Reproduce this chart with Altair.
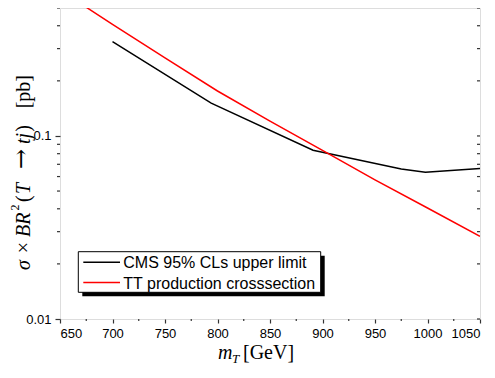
import altair as alt
import pandas as pd

# ---- data ----
black_mass = [700, 794, 891, 975, 998, 1050]
black_xsec = [0.328, 0.151, 0.0836, 0.0659, 0.0633, 0.0664]
red_mass = [650, 700, 750, 800, 850, 900, 950, 1000, 1050]
red_xsec = [0.626, 0.407, 0.267, 0.176, 0.1205, 0.0834, 0.0575, 0.0404, 0.0283]
series_names = ["CMS 95% CLs upper limit", "TT production crosssection"]
series_colors = ["#000000", "#ff0000"]
x_major = list(range(650, 1051, 50))
x_minor = list(range(675, 1050, 50))
y_major = [0.01, 0.1]
y_minor = [0.02, 0.03, 0.04, 0.05, 0.06, 0.07, 0.08, 0.09, 0.2, 0.3, 0.4, 0.5]

W, H = 420, 311
FONT = "Liberation Sans"
SERIF = "Liberation Serif"
TICK = "#333"

black_df = pd.DataFrame({"mass": black_mass, "xsec": black_xsec})
red_df = pd.DataFrame({"mass": red_mass, "xsec": red_xsec})
one = pd.DataFrame({"a": [0]})

xscale = alt.Scale(domain=[650, 1050], nice=False, zero=False)
yscale = alt.Scale(type="log", domain=[0.01, 0.5], nice=False)

x_axis = alt.Axis(
    values=x_major, format="d", tickSize=4, tickColor=TICK, tickWidth=1.2,
    domain=False, grid=False, labelFont=FONT, labelFontSize=13,
    labelColor="black", labelPadding=4, labelOverlap=False, title=None,
)
y_axis = alt.Axis(
    values=y_major, labelExpr="datum.value == 0.1 ? '0.1' : '0.01'",
    tickSize=5, tickColor=TICK, tickWidth=1.2, domain=False, grid=False,
    labelFont=FONT, labelFontSize=13, labelColor="black", labelPadding=4,
    labelOverlap=False, title=None,
)

black_line = alt.Chart(black_df).mark_line(
    color=series_colors[0], strokeWidth=1.5, clip=True
).encode(
    x=alt.X("mass:Q", scale=xscale, axis=x_axis),
    y=alt.Y("xsec:Q", scale=yscale, axis=y_axis),
)

red_line = alt.Chart(red_df).mark_line(
    color=series_colors[1], strokeWidth=1.5, clip=True
).encode(
    x=alt.X("mass:Q", scale=xscale),
    y=alt.Y("xsec:Q", scale=yscale),
)

# ---- minor ticks and mirrored right-hand ticks ----
xminor_df = pd.DataFrame({"mass": x_minor})
yminor_df = pd.DataFrame({"xsec": y_minor})
yall_df = pd.DataFrame({"xsec": y_major + y_minor})

bottom_minor = alt.Chart(xminor_df).mark_rule(color=TICK, strokeWidth=1.2).encode(
    x=alt.X("mass:Q", scale=xscale), y=alt.value(H), y2=alt.value(H + 2)
)
left_minor = alt.Chart(yminor_df).mark_rule(color=TICK, strokeWidth=1.2).encode(
    y=alt.Y("xsec:Q", scale=yscale), x=alt.value(-3), x2=alt.value(0)
)
right_ticks = alt.Chart(yall_df).mark_rule(color=TICK, strokeWidth=1.2).encode(
    y=alt.Y("xsec:Q", scale=yscale), x=alt.value(W - 3), x2=alt.value(W)
)

# ---- legend (drawn by hand to get the drop shadow) ----
lx0, lx1, ly0, ly1 = 18.3, 260.7, 243.7, 284.3
shadow = alt.Chart(one).mark_rect(color="black").encode(
    x=alt.value(lx0 + 4), x2=alt.value(lx1 + 4),
    y=alt.value(ly0 + 4), y2=alt.value(ly1 + 4),
)
box = alt.Chart(one).mark_rect(fill="white", stroke="black", strokeWidth=1).encode(
    x=alt.value(lx0), x2=alt.value(lx1), y=alt.value(ly0), y2=alt.value(ly1),
)
rows = [254.3, 274.5]
leg_layers = []
for name, col, ry in zip(series_names, series_colors, rows):
    leg_layers.append(
        alt.Chart(one).mark_rule(color=col, strokeWidth=1.5).encode(
            x=alt.value(23.3), x2=alt.value(60), y=alt.value(ry)
        )
    )
    leg_layers.append(
        alt.Chart(one).mark_text(
            text=name, font=FONT, fontSize=16, align="left", baseline="middle", color="black"
        ).encode(x=alt.value(63.3), y=alt.value(ry + 1))
    )

# ---- axis titles (mixed italic / roman) ----
def txt(s, x, y, size=21, italic=False, align="left", angle=0, baseline="alphabetic", font=SERIF):
    kw = dict(text=s, font=font, fontSize=size, align=align, baseline=baseline, color="black")
    if italic:
        kw["fontStyle"] = "italic"
    if angle:
        kw["angle"] = angle
    return alt.Chart(one).mark_text(**kw).encode(x=alt.value(x), y=alt.value(y))

title_layers = [
    txt("m", 158, 351, size=20, italic=True),
    txt("T", 172, 355, size=13, italic=True),
    txt("[GeV]", 183, 351, size=20),
]
# y title pieces: rotated, reading upward; page y -> plot y = page - 8
YB = -30  # baseline x
title_layers += [
    txt("σ", YB, 262, size=20, italic=True, angle=270),
    txt("×", YB, 239.5, size=20, align="center", angle=270),
    txt("BR", YB, 229, size=20, italic=True, angle=270),
    txt("2", YB - 11, 199.5, size=12, align="center", angle=270),
    txt("(", YB, 194, size=20, angle=270),
    txt("T", YB, 186, size=20, italic=True, angle=270),
    txt("→", YB - 1, 151, size=24, align="center", angle=270, font="DejaVu Serif"),
    txt("tj", YB, 136, size=20, italic=True, angle=270),
    txt(")", YB, 117, size=20, align="right", angle=270),
    txt("[pb]", YB, 67, size=20, align="right", angle=270),
]

chart = alt.layer(
    black_line, red_line, bottom_minor, left_minor, right_ticks,
    shadow, box, *leg_layers, *title_layers
).properties(
    width=W, height=H,
    autosize=alt.AutoSizeParams(type="none"),
    padding={"left": 52, "top": 0, "right": 7, "bottom": 51},
).configure_view(stroke="#333", strokeWidth=1.5).configure(background="white")

chart.save("out.html", embed_options={"renderer": "svg", "actions": False})
